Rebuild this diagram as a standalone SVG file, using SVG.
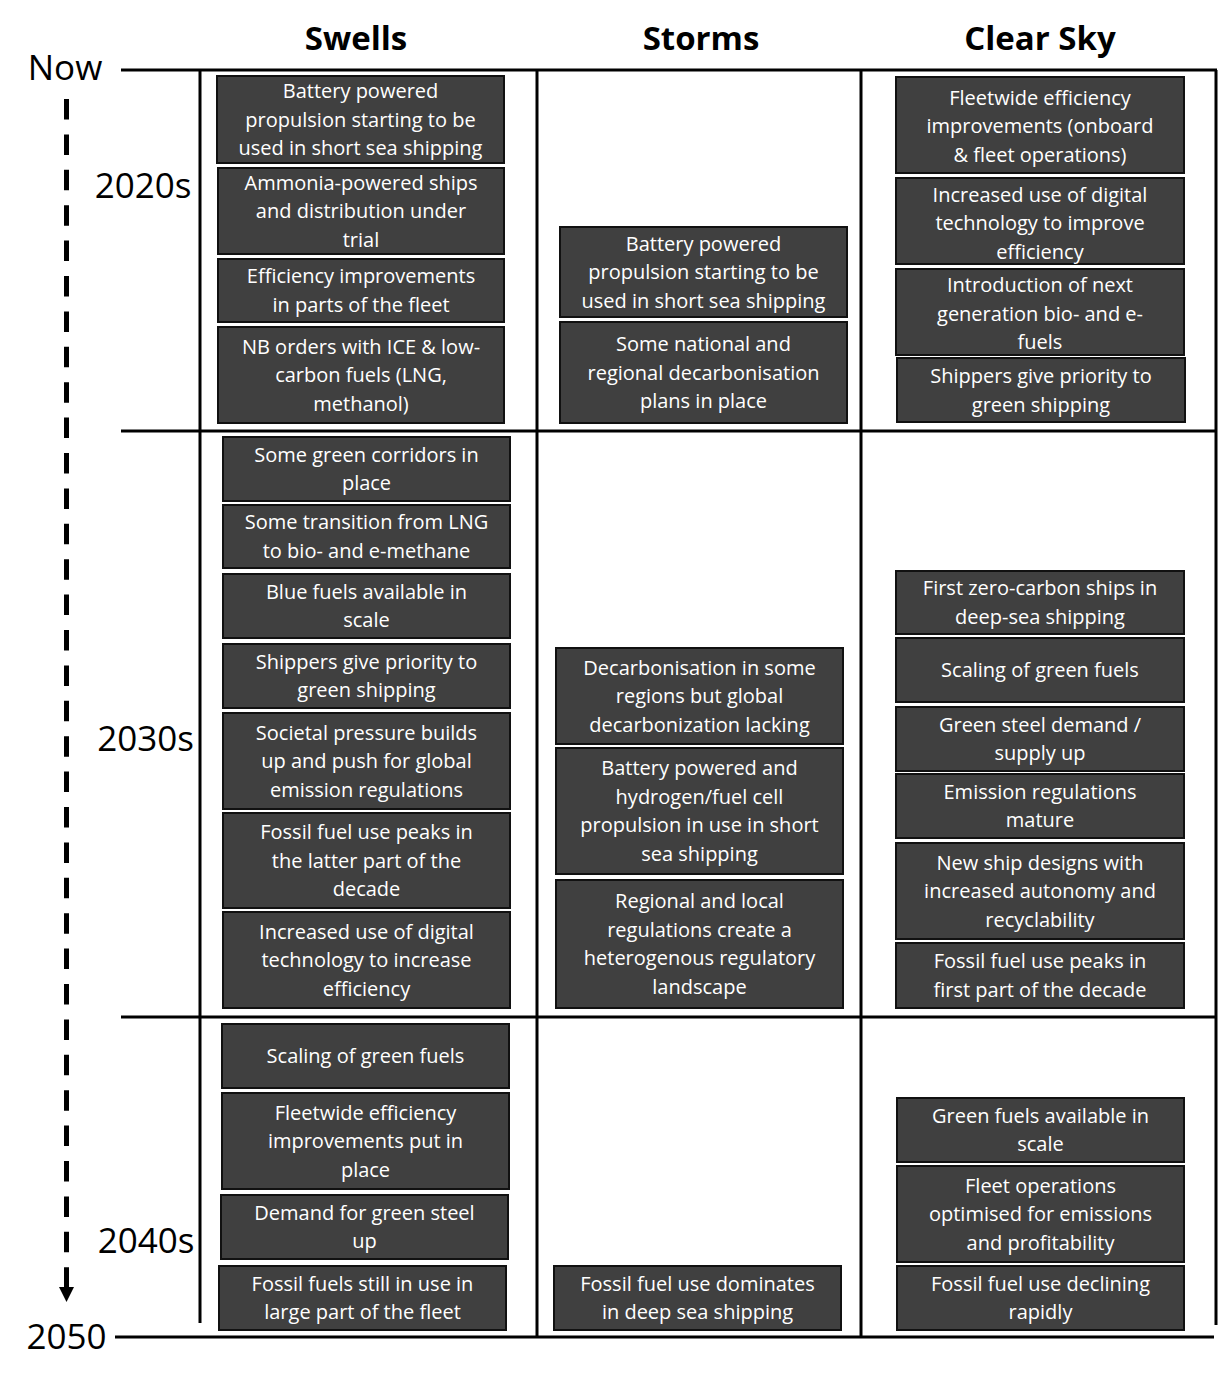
<svg xmlns="http://www.w3.org/2000/svg" width="1220" height="1386" viewBox="0 0 1220 1386">
<style>
.box{fill:#404040;stroke:#111;stroke-width:2}
.t{font-family:"Open Sans","Liberation Sans",sans-serif;font-size:20px;fill:#fff;text-anchor:middle}
.h{font-family:"Open Sans","Liberation Sans",sans-serif;font-size:33px;font-weight:bold;fill:#000;text-anchor:middle}
.y{font-family:"Open Sans","Liberation Sans",sans-serif;font-size:35px;fill:#000;text-anchor:middle}
.ln{stroke:#000;stroke-width:3;fill:none}
</style>
<rect width="1220" height="1386" fill="#fff"/>
<g id="headers">
<text class="h" x="356" y="50">Swells</text>
<text class="h" x="701" y="50">Storms</text>
<text class="h" x="1040" y="50">Clear Sky</text>
</g>
<g id="timeline">
<text class="y" x="65" y="80">Now</text>
<text class="y" x="143" y="198">2020s</text>
<text class="y" x="145.5" y="751">2030s</text>
<text class="y" x="146" y="1253">2040s</text>
<text class="y" x="66.5" y="1349">2050</text>
<line x1="66.5" y1="99" x2="66.5" y2="1288" stroke="#000" stroke-width="5" stroke-dasharray="20.5 14.9"/>
<polygon points="59,1287 74,1287 66.5,1302" fill="#000"/>
</g>
<g id="grid">
<line class="ln" x1="121" y1="70" x2="1217" y2="70"/>
<line class="ln" x1="121" y1="431" x2="1217" y2="431"/>
<line class="ln" x1="121" y1="1017" x2="1217" y2="1017"/>
<line class="ln" x1="115" y1="1337" x2="1214" y2="1337"/>
<line class="ln" x1="200" y1="70" x2="200" y2="1323"/>
<line class="ln" x1="537" y1="70" x2="537" y2="1337"/>
<line class="ln" x1="861" y1="70" x2="861" y2="1337"/>
<line class="ln" x1="1216" y1="70" x2="1216" y2="1325"/>
</g>
<g id="swells-2020s">
<g id="A1"><rect class="box" x="217" y="76" width="287" height="87"/><text class="t" y="98"><tspan x="360.5">Battery powered</tspan><tspan x="360.5" dy="28.5">propulsion starting to be</tspan><tspan x="360.5" dy="28.5">used in short sea shipping</tspan></text></g>
<g id="A2"><rect class="box" x="218" y="168" width="286" height="86"/><text class="t" y="189.5"><tspan x="361">Ammonia-powered ships</tspan><tspan x="361" dy="28.5">and distribution under</tspan><tspan x="361" dy="28.5">trial</tspan></text></g>
<g id="A3"><rect class="box" x="218" y="259" width="286" height="63"/><text class="t" y="283.25"><tspan x="361">Efficiency improvements</tspan><tspan x="361" dy="28.5">in parts of the fleet</tspan></text></g>
<g id="A4"><rect class="box" x="218" y="327" width="286" height="96"/><text class="t" y="353.5"><tspan x="361">NB orders with ICE &amp; low-</tspan><tspan x="361" dy="28.5">carbon fuels (LNG,</tspan><tspan x="361" dy="28.5">methanol)</tspan></text></g>
</g>
<g id="swells-2030s">
<g id="B1"><rect class="box" x="223" y="437" width="287" height="64"/><text class="t" y="461.75"><tspan x="366.5">Some green corridors in</tspan><tspan x="366.5" dy="28.5">place</tspan></text></g>
<g id="B2"><rect class="box" x="223" y="505" width="287" height="63"/><text class="t" y="529.25"><tspan x="366.5">Some transition from LNG</tspan><tspan x="366.5" dy="28.5">to bio- and e-methane</tspan></text></g>
<g id="B3"><rect class="box" x="223" y="574" width="287" height="64"/><text class="t" y="598.75"><tspan x="366.5">Blue fuels available in</tspan><tspan x="366.5" dy="28.5">scale</tspan></text></g>
<g id="B4"><rect class="box" x="223" y="644" width="287" height="64"/><text class="t" y="668.75"><tspan x="366.5">Shippers give priority to</tspan><tspan x="366.5" dy="28.5">green shipping</tspan></text></g>
<g id="B5"><rect class="box" x="223" y="713" width="287" height="96"/><text class="t" y="739.5"><tspan x="366.5">Societal pressure builds</tspan><tspan x="366.5" dy="28.5">up and push for global</tspan><tspan x="366.5" dy="28.5">emission regulations</tspan></text></g>
<g id="B6"><rect class="box" x="223" y="813" width="287" height="95"/><text class="t" y="839"><tspan x="366.5">Fossil fuel use peaks in</tspan><tspan x="366.5" dy="28.5">the latter part of the</tspan><tspan x="366.5" dy="28.5">decade</tspan></text></g>
<g id="B7"><rect class="box" x="223" y="912" width="287" height="96"/><text class="t" y="938.5"><tspan x="366.5">Increased use of digital</tspan><tspan x="366.5" dy="28.5">technology to increase</tspan><tspan x="366.5" dy="28.5">efficiency</tspan></text></g>
</g>
<g id="swells-2040s">
<g id="C1"><rect class="box" x="222" y="1024" width="287" height="64"/><text class="t" x="365.5" y="1063">Scaling of green fuels</text></g>
<g id="C2"><rect class="box" x="222" y="1093" width="287" height="96"/><text class="t" y="1119.5"><tspan x="365.5">Fleetwide efficiency</tspan><tspan x="365.5" dy="28.5">improvements put in</tspan><tspan x="365.5" dy="28.5">place</tspan></text></g>
<g id="C3"><rect class="box" x="221" y="1195" width="287" height="64"/><text class="t" y="1219.75"><tspan x="364.5">Demand for green steel</tspan><tspan x="364.5" dy="28.5">up</tspan></text></g>
<g id="C4"><rect class="box" x="219" y="1266" width="287" height="64"/><text class="t" y="1290.75"><tspan x="362.5">Fossil fuels still in use in</tspan><tspan x="362.5" dy="28.5">large part of the fleet</tspan></text></g>
</g>
<g id="storms">
<g id="D1"><rect class="box" x="560" y="227" width="287" height="90"/><text class="t" y="250.5"><tspan x="703.5">Battery powered</tspan><tspan x="703.5" dy="28.5">propulsion starting to be</tspan><tspan x="703.5" dy="28.5">used in short sea shipping</tspan></text></g>
<g id="D2"><rect class="box" x="560" y="322" width="287" height="101"/><text class="t" y="351"><tspan x="703.5">Some national and</tspan><tspan x="703.5" dy="28.5">regional decarbonisation</tspan><tspan x="703.5" dy="28.5">plans in place</tspan></text></g>
<g id="E1"><rect class="box" x="556" y="648" width="287" height="96"/><text class="t" y="674.5"><tspan x="699.5">Decarbonisation in some</tspan><tspan x="699.5" dy="28.5">regions but global</tspan><tspan x="699.5" dy="28.5">decarbonization lacking</tspan></text></g>
<g id="E2"><rect class="box" x="556" y="748" width="287" height="126"/><text class="t" y="775.25"><tspan x="699.5">Battery powered and</tspan><tspan x="699.5" dy="28.5">hydrogen/fuel cell</tspan><tspan x="699.5" dy="28.5">propulsion in use in short</tspan><tspan x="699.5" dy="28.5">sea shipping</tspan></text></g>
<g id="E3"><rect class="box" x="556" y="880" width="287" height="128"/><text class="t" y="908.25"><tspan x="699.5">Regional and local</tspan><tspan x="699.5" dy="28.5">regulations create a</tspan><tspan x="699.5" dy="28.5">heterogenous regulatory</tspan><tspan x="699.5" dy="28.5">landscape</tspan></text></g>
<g id="F1"><rect class="box" x="554" y="1266" width="287" height="64"/><text class="t" y="1290.75"><tspan x="697.5">Fossil fuel use dominates</tspan><tspan x="697.5" dy="28.5">in deep sea shipping</tspan></text></g>
</g>
<g id="clear-sky">
<g id="G1"><rect class="box" x="896" y="77" width="288" height="96"/><text class="t" y="104.5"><tspan x="1040">Fleetwide efficiency</tspan><tspan x="1040" dy="28.5">improvements (onboard</tspan><tspan x="1040" dy="28.5">&amp; fleet operations)</tspan></text></g>
<g id="G2"><rect class="box" x="896" y="178" width="288" height="86"/><text class="t" y="201.5"><tspan x="1040">Increased use of digital</tspan><tspan x="1040" dy="28.5">technology to improve</tspan><tspan x="1040" dy="28.5">efficiency</tspan></text></g>
<g id="G3"><rect class="box" x="896" y="269" width="288" height="86"/><text class="t" y="292"><tspan x="1040">Introduction of next</tspan><tspan x="1040" dy="28.5">generation bio- and e-</tspan><tspan x="1040" dy="28.5">fuels</tspan></text></g>
<g id="G4"><rect class="box" x="897" y="358" width="288" height="64"/><text class="t" y="383"><tspan x="1041">Shippers give priority to</tspan><tspan x="1041" dy="28.5">green shipping</tspan></text></g>
<g id="H1"><rect class="box" x="896" y="571" width="288" height="63"/><text class="t" y="595.25"><tspan x="1040">First zero-carbon ships in</tspan><tspan x="1040" dy="28.5">deep-sea shipping</tspan></text></g>
<g id="H2"><rect class="box" x="896" y="638" width="288" height="64"/><text class="t" x="1040" y="677">Scaling of green fuels</text></g>
<g id="H3"><rect class="box" x="896" y="707" width="288" height="64"/><text class="t" y="731.75"><tspan x="1040">Green steel demand /</tspan><tspan x="1040" dy="28.5">supply up</tspan></text></g>
<g id="H4"><rect class="box" x="896" y="774" width="288" height="64"/><text class="t" y="798.75"><tspan x="1040">Emission regulations</tspan><tspan x="1040" dy="28.5">mature</tspan></text></g>
<g id="H5"><rect class="box" x="896" y="843" width="288" height="96"/><text class="t" y="869.5"><tspan x="1040">New ship designs with</tspan><tspan x="1040" dy="28.5">increased autonomy and</tspan><tspan x="1040" dy="28.5">recyclability</tspan></text></g>
<g id="H6"><rect class="box" x="896" y="943" width="288" height="65"/><text class="t" y="968.25"><tspan x="1040">Fossil fuel use peaks in</tspan><tspan x="1040" dy="28.5">first part of the decade</tspan></text></g>
<g id="I1"><rect class="box" x="897" y="1098" width="287" height="64"/><text class="t" y="1122.75"><tspan x="1040.5">Green fuels available in</tspan><tspan x="1040.5" dy="28.5">scale</tspan></text></g>
<g id="I2"><rect class="box" x="897" y="1166" width="287" height="96"/><text class="t" y="1192.5"><tspan x="1040.5">Fleet operations</tspan><tspan x="1040.5" dy="28.5">optimised for emissions</tspan><tspan x="1040.5" dy="28.5">and profitability</tspan></text></g>
<g id="I3"><rect class="box" x="897" y="1266" width="287" height="64"/><text class="t" y="1290.75"><tspan x="1040.5">Fossil fuel use declining</tspan><tspan x="1040.5" dy="28.5">rapidly</tspan></text></g>
</g>
</svg>
